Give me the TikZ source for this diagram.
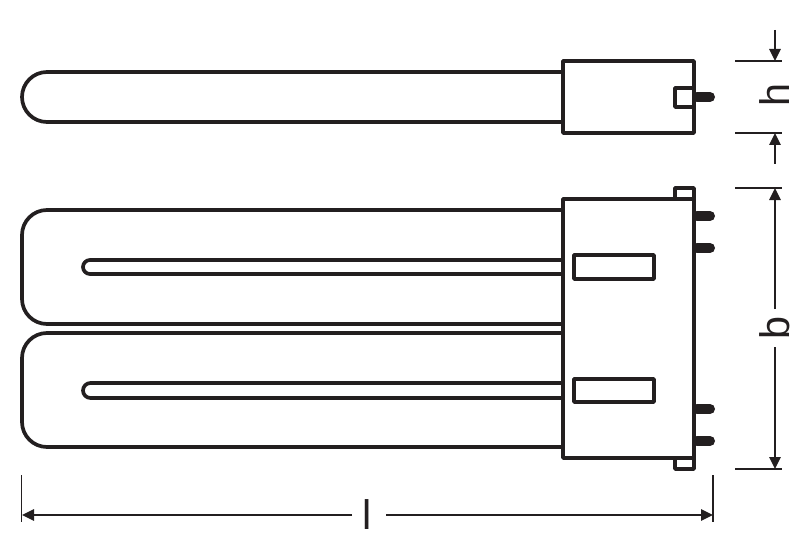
\documentclass[tikz,border=0pt]{standalone}
\usepackage{fontspec}
\setmainfont{Liberation Sans}
\usetikzlibrary{arrows.meta}
\definecolor{ink}{HTML}{231F20}
\tikzset{
  outline/.style={draw=ink,line width=3.7pt*0.75,line join=round,line cap=round},
  thin dim/.style={draw=ink,line width=1.6pt*0.75},
  dimarrow/.style={draw=ink,line width=1.6pt*0.75,-{Triangle[length=9pt,width=8.5pt]}},
  pinline/.style={draw=ink,line width=10pt*0.75,line cap=round},
  dimlabel/.style={inner sep=0pt,text=ink,font=\fontsize{31}{31}\selectfont}
}
\begin{document}
\begin{tikzpicture}[x=0.75pt,y=-0.75pt]
\useasboundingbox (0,0) rectangle (810,549);
% top view tube
\draw[outline] (563,72) -- (47,72) arc[start angle=270,end angle=90,radius=25] -- (563,122);
\draw[outline] (563,61) rectangle (694,133);
\draw[outline] (694,88) -- (675,88) -- (675,107) -- (694,107);
\draw[pinline] (697,97) -- (710,97);
% lower view tubes
\draw[outline] (563,210) -- (47,210) arc[start angle=270,end angle=180,radius=25] -- (22,299) arc[start angle=180,end angle=90,radius=25] -- (563,324);
\draw[outline] (563,333) -- (47,333) arc[start angle=270,end angle=180,radius=25] -- (22,422) arc[start angle=180,end angle=90,radius=25] -- (563,447);
\draw[outline] (563,260) -- (90,260) arc[start angle=270,end angle=90,radius=7] -- (563,274);
\draw[outline] (563,383) -- (90.5,383) arc[start angle=270,end angle=90,radius=7.5] -- (563,398);
% socket
\draw[outline] (563,199) rectangle (694,458);
\draw[outline] (675,199) -- (675,188) -- (694,188) -- (694,199);
\draw[outline] (675,458) -- (675,469) -- (694,469) -- (694,458);
\draw[outline] (574,255) rectangle (654,279);
\draw[outline] (574,379) rectangle (654,402);
\draw[pinline] (697,216) -- (710,216);
\draw[pinline] (697,248) -- (710,248);
\draw[pinline] (697,409) -- (710,409);
\draw[pinline] (697,441) -- (710,441);
% dimensions
\coordinate (hT) at (775,61);
\coordinate (hB) at (775,133);
\coordinate (bT) at (775,188);
\coordinate (bB) at (775,469);
\coordinate (lL) at (22,515);
\coordinate (lR) at (713,515);
\draw[thin dim] (735,61) -- (782,61);
\draw[thin dim] (735,133) -- (782,133);
\draw[thin dim] (735,188) -- (782,188);
\draw[thin dim] (735,469) -- (782,469);
\draw[thin dim] (21.5,475) -- (21.5,522);
\draw[thin dim] (713,475) -- (713,522);
\draw[dimarrow] (775,30) -- (hT);
\draw[dimarrow] (775,164) -- (hB);
\draw[dimarrow] (775,309) -- (bT);
\draw[dimarrow] (775,347) -- (bB);
\draw[dimarrow] (352,515) -- (lL);
\draw[dimarrow] (386,515) -- (lR);
\node[dimlabel,rotate=90,anchor=base west] (hl) at (789,107) {h};
\node[dimlabel,rotate=90,anchor=base west] (bl) at (789,340) {b};
\node[dimlabel,anchor=base] (ll) at (367,529) {l};
\end{tikzpicture}
\end{document}
